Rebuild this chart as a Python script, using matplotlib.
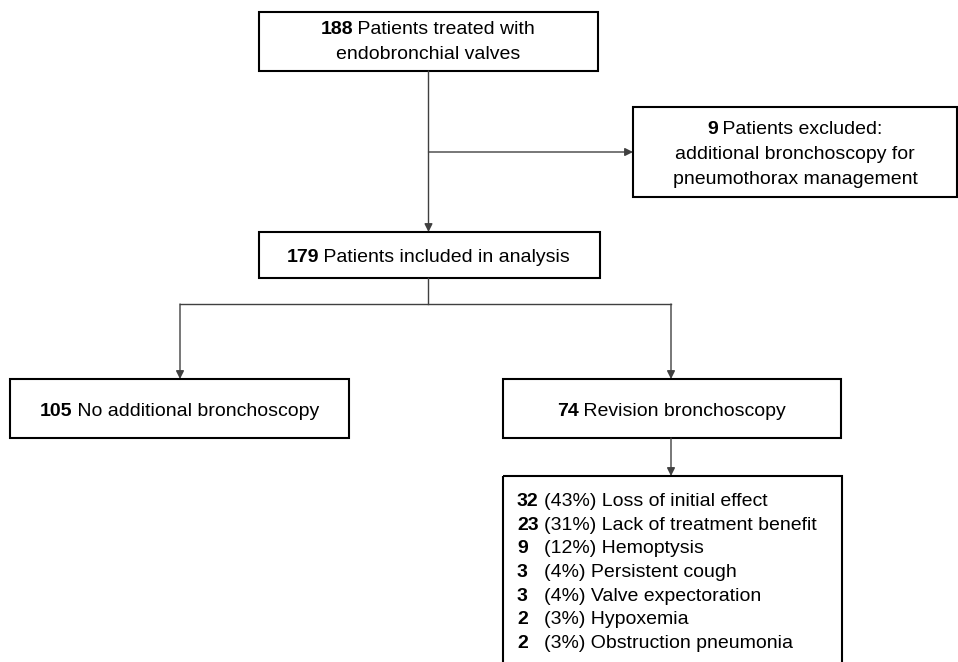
import matplotlib.pyplot as plt
from matplotlib.patches import Rectangle

# Числа в блок-схемі
n_treated = 188
n_excluded = 9
n_included = 179
n_no_revision = 105
n_revision = 74

# Причини ревізійної бронхоскопії
reason_counts = [32, 23, 9, 3, 3, 2, 2]
reason_pcts = [43, 31, 12, 4, 4, 3, 3]
reason_labels = ["Loss of initial effect", "Lack of treatment benefit",
                 "Hemoptysis", "Persistent cough", "Valve expectoration",
                 "Hypoxemia", "Obstruction pneumonia"]

plt.rcParams['font.family'] = ['Liberation Sans', 'DejaVu Sans']
FS = 14
LINE = '#404040'
DY = 1.5  # невелике зміщення тексту вниз

fig = plt.figure(figsize=(9.58, 6.62), dpi=100)
ax = fig.add_axes([0, 0, 1, 1])
ax.set_xlim(0, 958)
ax.set_ylim(662, 0)
ax.axis('off')
renderer = fig.canvas.get_renderer()


def text_width(s, bold):
    t = ax.text(0, 0, s, fontsize=FS, fontweight='bold' if bold else 'normal')
    w = t.get_window_extent(renderer=renderer).width
    t.remove()
    return w


def mixed_line(cx, y, parts):
    """ Рядок з жирних і звичайних частин, вирівняний по центру cx"""
    widths = [text_width(s, b) for s, b in parts]
    x = cx - sum(widths) / 2
    for (s, b), w in zip(parts, widths):
        ax.text(x, y + DY, s, fontsize=FS, fontweight='bold' if b else 'normal',
                ha='left', va='center')
        x += w - 1


def box(x0, y0, x1, y1):
    ax.add_patch(Rectangle((x0, y0), x1 - x0, y1 - y0, fill=False,
                           ec='black', lw=1.5))


def arrow(x0, y0, x1, y1):
    ax.annotate('', xy=(x1, y1), xytext=(x0, y0),
                arrowprops=dict(arrowstyle='-|>', color=LINE, lw=1,
                                mutation_scale=12, shrinkA=0, shrinkB=0))


def line(xs, ys):
    ax.plot(xs, ys, color=LINE, lw=1)


# Верхній блок
box(259, 12, 598, 71)
mixed_line(428.5, 28, [(str(n_treated), True), (" Patients treated with", False)])
mixed_line(428.5, 53, [("endobronchial valves", False)])

# Виключені
box(633, 107, 957, 197)
mixed_line(795, 128, [(str(n_excluded), True), (" Patients excluded:", False)])
mixed_line(795, 153, [("additional bronchoscopy for", False)])
mixed_line(795, 178, [("pneumothorax management", False)])

arrow(428.5, 71, 428.5, 232)
arrow(428.5, 152, 633, 152)

# Включені в аналіз
box(259, 232, 600, 278)
mixed_line(429, 256, [(str(n_included), True), (" Patients included in analysis", False)])

line([428.5, 428.5], [278, 304])
line([180, 671], [304, 304])
arrow(180, 304, 180, 379)
arrow(671, 304, 671, 379)

# Дві гілки
box(10, 379, 349, 438)
mixed_line(180, 410, [(str(n_no_revision), True), (" No additional bronchoscopy", False)])
box(503, 379, 841, 438)
mixed_line(672, 410, [(str(n_revision), True), (" Revision bronchoscopy", False)])

arrow(671, 438, 671, 476)

# Причини
box(503, 476, 842, 700)
for i, (c, p, lab) in enumerate(zip(reason_counts, reason_pcts, reason_labels)):
    y = 500 + DY + i * 23.7
    ax.text(517, y, str(c), fontsize=FS, fontweight='bold', ha='left', va='center')
    ax.text(544, y, f"({p}%) {lab}", fontsize=FS, ha='left', va='center')

fig.savefig('out.png', dpi=100)
